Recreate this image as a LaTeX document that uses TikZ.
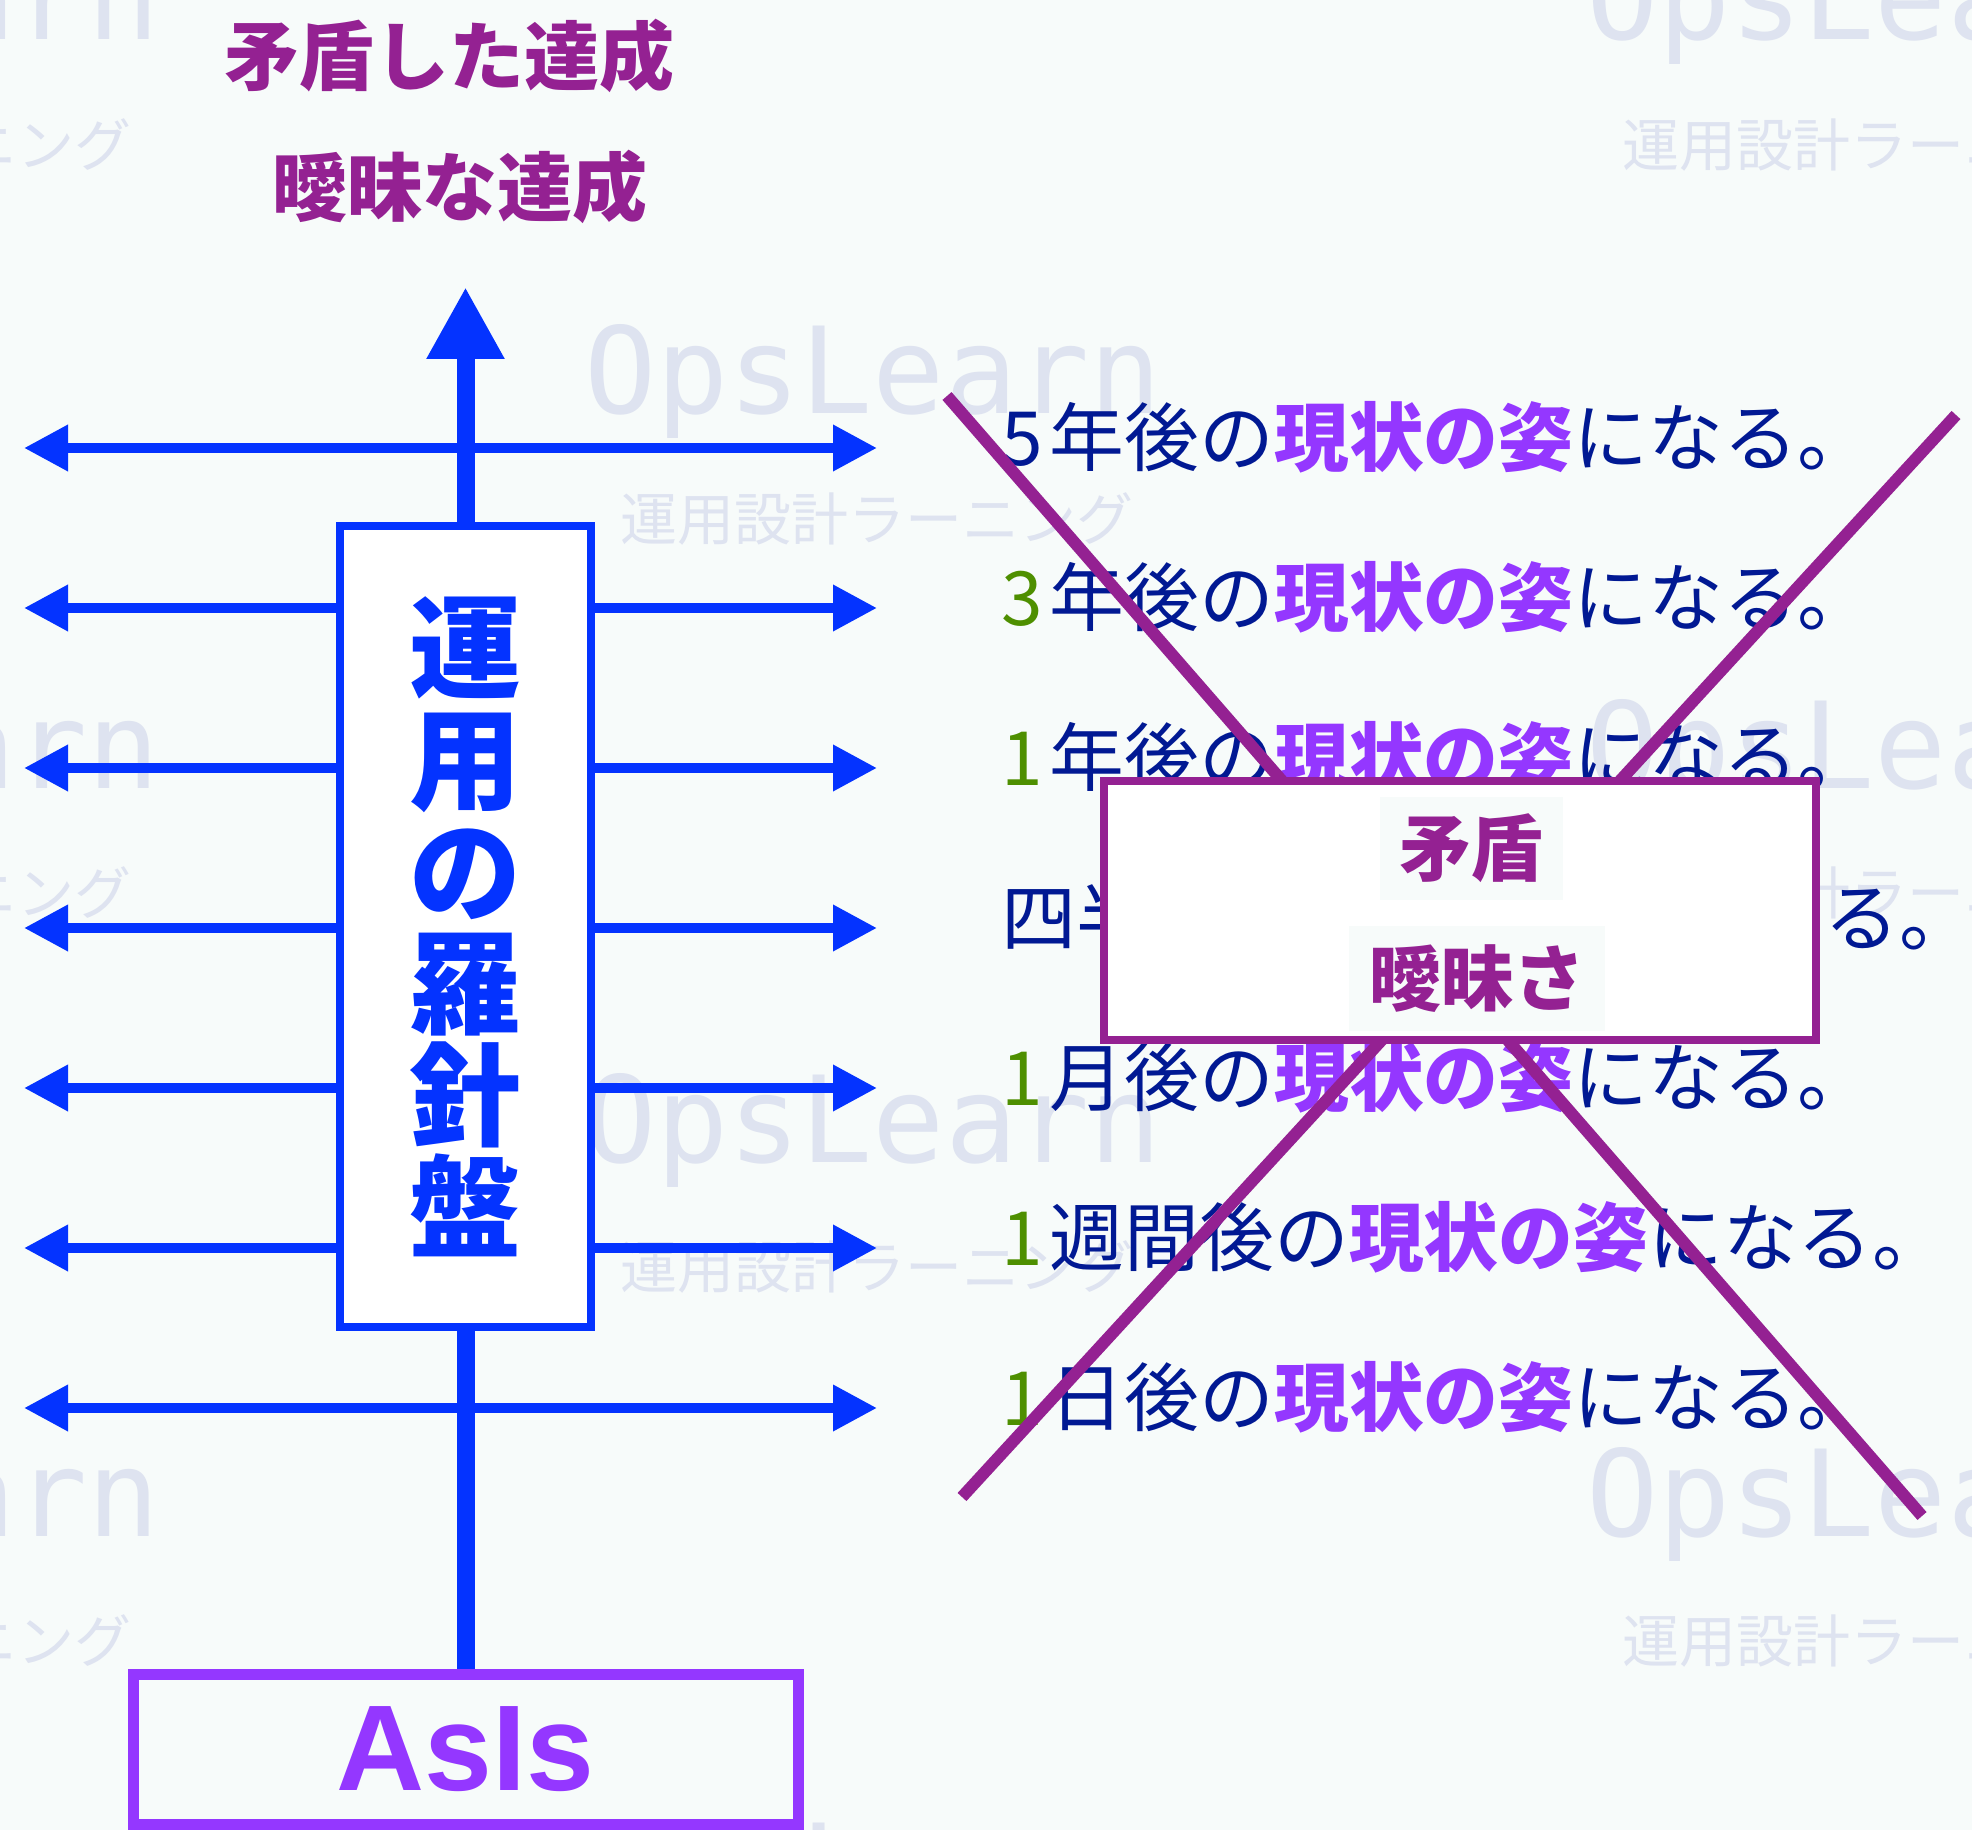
\documentclass[tikz,border=0pt]{standalone}
\usepackage{fontspec}
\setmainfont{Noto Sans CJK JP}
\newfontfamily\asisfont{Liberation Sans}
\newfontfamily\markfont{DejaVu Sans Mono}
\usepackage{tikz}
\usetikzlibrary{arrows.meta}
\usetikzlibrary{positioning}

\definecolor{bgwhite}{RGB}{247,251,250}
\definecolor{navytext}{RGB}{1,25,147}
\definecolor{yeargreen}{RGB}{78,143,0}
\definecolor{asisviolet}{RGB}{148,55,255}
\definecolor{crossmagenta}{RGB}{148,33,146}
\definecolor{compassblue}{RGB}{4,51,255}
\definecolor{markgray}{RGB}{222,227,240}

\newcommand{\nowshape}{\textcolor{asisviolet}{\bfseries 現状の姿}}
\newcommand{\periodnum}[2][yeargreen]{\textcolor{#1}{#2}\kern3.5pt}

\begin{document}
\begin{tikzpicture}
    [
    x=0.5pt, y=-0.5pt,
    wmark/.style={anchor=base, inner sep=0pt, text=markgray, font=\markfont\fontsize{60pt}{70pt}\selectfont},
    wsub/.style={inner sep=0pt, text=markgray, font=\fontsize{28.5pt}{34pt}\selectfont},
    heading/.style={inner sep=0pt, text=crossmagenta, font=\fontsize{37.5pt}{45pt}\selectfont\bfseries},
    wide/.style={{Triangle[length=22pt,width=22pt]}-{Triangle[length=22pt,width=22pt]}, line width=5pt, compassblue},
    trunk/.style={line width=9pt, compassblue},
    compassbox/.style={draw=compassblue, line width=4pt, fill=white, minimum width=125.5pt, minimum height=400.5pt, align=center, inner sep=0pt, text=compassblue, font=\fontsize{56pt}{56pt}\selectfont\bfseries},
    asisbox/.style={draw=asisviolet, line width=5.5pt, fill=bgwhite, minimum width=332.5pt, minimum height=75pt, text=asisviolet, font=\asisfont\fontsize{61pt}{70pt}\selectfont\bfseries},
    goal/.style={anchor=west, inner sep=0pt, text=navytext, font=\fontsize{37.4pt}{44pt}\selectfont},
    cross/.style={line width=6pt, crossmagenta},
    clashbox/.style={draw=crossmagenta, line width=4pt, fill=white, minimum width=356pt, minimum height=129.5pt},
    tag/.style={fill=bgwhite, inner sep=0pt, text=crossmagenta, font=\fontsize{36pt}{43pt}\selectfont\bfseries}
    ]
    \path [use as bounding box, fill=bgwhite] (0,0) rectangle (1972,1830);

    % watermark
    \foreach \wx/\wy [count=\i] in {873/414, 873/1162, 873/1910, 1875/40, 1875/788, 1875/1536, -129/40, -129/788, -129/1536} {
      \node (wm\i) at (\wx,\wy) [wmark] {OpsLearn};
      \node (ws\i) at (\wx+4,\wy+105) [wsub] {運用設計ラーニング};
    }

    \node (contra) at (449,56) [heading] {矛盾した達成};
    \node (vague) at (460,187) [heading] {曖昧な達成};

    \coordinate (l1) at (24,448);  \coordinate (r1) at (877,448);
    \coordinate (l2) at (24,608);  \coordinate (r2) at (877,608);
    \coordinate (l3) at (24,768);  \coordinate (r3) at (877,768);
    \coordinate (l4) at (24,928);  \coordinate (r4) at (877,928);
    \coordinate (l5) at (24,1088); \coordinate (r5) at (877,1088);
    \coordinate (l6) at (24,1248); \coordinate (r6) at (877,1248);
    \coordinate (l7) at (24,1408); \coordinate (r7) at (877,1408);
    \draw [wide] (l1) -- (r1);
    \draw [wide] (l2) -- (r2);
    \draw [wide] (l3) -- (r3);
    \draw [wide] (l4) -- (r4);
    \draw [wide] (l5) -- (r5);
    \draw [wide] (l6) -- (r6);
    \draw [wide] (l7) -- (r7);

    \node (compass) at (465.5,926.5) [compassbox] {運\\用\\の\\羅\\針\\盤};
    \node (asis) at (465.5,1749) [asisbox] {AsIs};
    \coordinate (tip) at (465.5,287);
    \draw [trunk] (asis) -- (compass);
    \draw [trunk, -{Triangle[length=36pt,width=36.5pt]}] (compass) -- (tip);

    % horizons
    \node (g1) at (1001,437) [goal] {\periodnum[navytext]{5}年後の\nowshape になる。};
    \node (g2) at (1001,597) [goal] {\periodnum{3}年後の\nowshape になる。};
    \node (g3) at (1001,757) [goal] {\periodnum{1}年後の\nowshape になる。};
    \node (g4) at (1001,917) [goal] {四半期後の\nowshape になる。};
    \node (g5) at (1001,1077) [goal] {\periodnum{1}月後の\nowshape になる。};
    \node (g6) at (1001,1237) [goal] {\periodnum{1}週間後の\nowshape になる。};
    \node (g7) at (1001,1397) [goal] {\periodnum{1}日後の\nowshape になる。};

    \coordinate (xa) at (947,396);  \coordinate (xb) at (1922,1516);
    \coordinate (xc) at (1956,415); \coordinate (xd) at (962,1497);
    \draw [cross] (xa) -- (xb);
    \draw [cross] (xc) -- (xd);

    \node (clash) at (1460,910.5) [clashbox] {};
    \node (mujun) at (1471.5,848.5) [tag, minimum width=91.5pt, minimum height=51.5pt] {矛盾};
    \node (aimai) at (1477,978.5) [tag, minimum width=128pt, minimum height=52.5pt] {曖昧さ};
  \end{tikzpicture}
\end{document}
